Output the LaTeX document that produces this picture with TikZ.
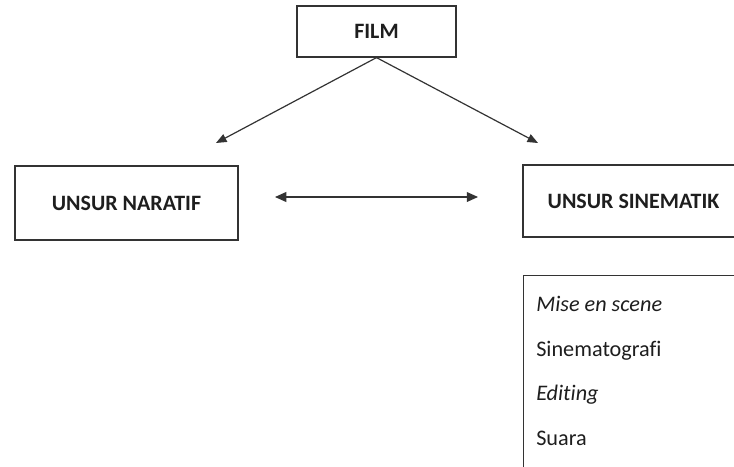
\documentclass[tikz,border=0pt]{standalone}
\usepackage{fontspec}
\setmainfont{Carlito}[Ligatures={NoCommon}]
\usepackage{tikz}
\usepackage{xcolor}
\usetikzlibrary{arrows.meta,positioning}
\definecolor{ink}{HTML}{1E1E1E}
\definecolor{rule}{HTML}{333333}
\tikzset{
  kotak/.style={draw=rule,fill=white,line width=0.85pt,align=center,
                text=ink,font=\fontsize{15.6}{19}\selectfont\bfseries},
  daftar/.style={draw=rule,fill=white,line width=0.85pt,anchor=north west},
  butir/.style={anchor=base west,inner sep=0pt,text=ink,
                font=\fontsize{15.8}{19}\selectfont},
  panah/.style={-{Triangle[length=7.5pt,width=6pt]},line width=0.85pt,
                draw=rule},
  panahdua/.style={{Triangle[length=8pt,width=7pt]}-{Triangle[length=8pt,width=7pt]},
                   line width=0.85pt,draw=rule}
}
\begin{document}
\begin{tikzpicture}[x=0.025cm,y=-0.025cm]
    \useasboundingbox[fill=white] (0,0) rectangle (734,466);

    \node[kotak,minimum width=3.975cm,minimum height=1.275cm] (film)
      at (376.5,31.5) {FILM};
    \node[kotak,minimum width=5.575cm,minimum height=1.85cm] (naratif)
      at (126.5,203) {UNSUR NARATIF};
    \node[kotak,minimum width=5.525cm,minimum height=1.8cm] (sinematik)
      at (633.5,201) {UNSUR SINEMATIK};

    \coordinate (ujungkiri) at (216,143);
    \coordinate (ujungkanan) at (538,143);
    \draw[panah] (film.south) -- (ujungkiri);
    \draw[panah] (film.south) -- (ujungkanan);

    \coordinate (hubkiri) at (275,197);
    \coordinate (hubkanan) at (478,197);
    \draw[panahdua] (hubkiri) -- (hubkanan);

    % unsur sinematik
    \node[daftar,minimum width=5.525cm,minimum height=5.2cm] (unsur)
      at (523,275) {};
    \node[butir] (mise) at (536,311) {\itshape Mise en scene};
    \node[butir] (sinema) at (536,356) {Sinematografi};
    \node[butir] (editing) at (536,400) {\itshape Editing};
    \node[butir] (suara) at (536,445) {Suara};
\end{tikzpicture}
\end{document}
